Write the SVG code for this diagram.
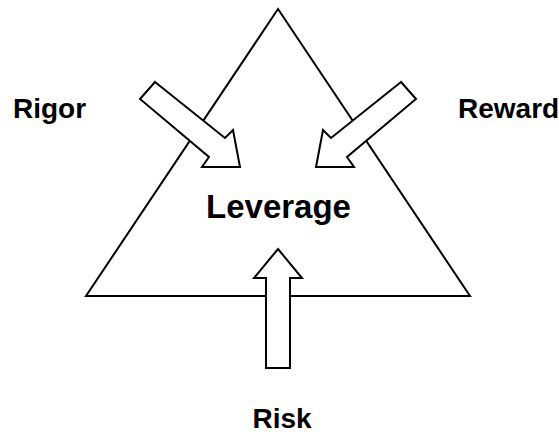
<svg xmlns="http://www.w3.org/2000/svg" width="559" height="434" viewBox="0 0 559 434">
  <style>
    .shape { fill: #ffffff; stroke: #000000; stroke-width: 2; stroke-linejoin: miter; }
    .label { font-family: "Liberation Sans", Arial, sans-serif; font-weight: bold; fill: #000000; }
  </style>
  <rect width="559" height="434" fill="#ffffff"/>

  <g id="triangle">
    <polygon class="shape" points="278,9 470,296 86,296"/>
    <text class="label" x="278.5" y="218" font-size="33" text-anchor="middle">Leverage</text>
  </g>

  <g id="connectors">
    <!-- Rigor arrow -->
    <polygon class="shape" points="155,82 225,138 233,130 240,167 202,167 209,157 140,99"/>
    <!-- Reward arrow -->
    <polygon class="shape" points="401,82 331,138 323,130 316,167 354,167 347,157 416,99"/>
    <!-- Risk arrow -->
    <polygon class="shape" points="278,249 302,278 290,278 290,368 266,368 266,278 254,278"/>
  </g>

  <g id="rigor">
    <text class="label" x="13" y="118" font-size="28">Rigor</text>
  </g>
  <g id="reward">
    <text class="label" x="458" y="118" font-size="28">Reward</text>
  </g>
  <g id="risk">
    <text class="label" x="282" y="428" font-size="28" text-anchor="middle">Risk</text>
  </g>
</svg>
